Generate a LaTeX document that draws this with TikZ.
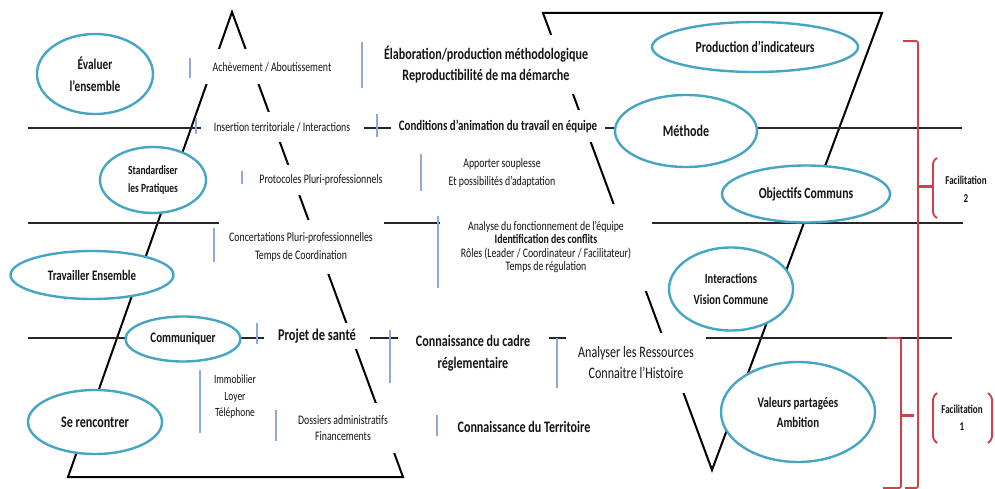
\documentclass[tikz,border=0pt]{standalone}
\usepackage{fontspec}
\setmainfont{Carlito}[FakeStretch=0.755]
\usetikzlibrary{shapes.geometric}
\definecolor{ellblue}{RGB}{70,165,197}
\definecolor{tickblue}{RGB}{143,170,215}
\definecolor{brred}{RGB}{205,65,75}
\definecolor{ink}{RGB}{20,20,20}
\newcommand{\fsz}[2]{\fontsize{#1}{#2}\selectfont}
\begin{document}
\begin{tikzpicture}[x=1pt,y=-1pt,
  tri/.style={draw=black,line width=2pt,line join=miter},
  hline/.style={draw=black!85,line width=1.1pt},
  ell/.style={ellipse,draw=ellblue,line width=2.4pt,fill=white,inner sep=0pt,align=center,text=ink},
  txt/.style={fill=white,inner sep=0pt,align=center,text=ink},
  reg/.style={txt,font=\fsz{13}{17}},
  bld/.style={txt,font=\bfseries\fsz{16}{21}},
  tick/.style={draw=tickblue,line width=1.4pt},
  br/.style={draw=brred,line width=1.8pt,rounded corners=2pt}]
\useasboundingbox (0,0) rectangle (995,489);
\fill[white] (0,0) rectangle (995,489);

% triangles
\draw[tri] (232,12) -- (68,477) -- (403,477) -- cycle;
\draw[tri] (543,13) -- (882,13) -- (712,470) -- cycle;

% horizontal lines
\draw[hline] (28,128) -- (962,128);
\draw[hline] (28,223) -- (963,223);
\draw[hline] (28,338) -- (952,338);

% ellipses
\node[ell,minimum width=116pt,minimum height=80pt,font=\bfseries\fsz{15}{22}] (eval) at (95,74) {Évaluer\\l’ensemble};
\node[ell,minimum width=106pt,minimum height=66pt,font=\bfseries\fsz{12.5}{18}] (stand) at (153,180) {Standardiser\\les Pratiques};
\node[ell,minimum width=163pt,minimum height=48pt,font=\bfseries\fsz{14.5}{18}] (trav) at (92,275) {Travailler Ensemble};
\node[ell,minimum width=115pt,minimum height=45pt,font=\bfseries\fsz{14.5}{16}] (comm) at (183,339) {Communiquer};
\node[ell,minimum width=134pt,minimum height=64pt,font=\bfseries\fsz{16}{20}] (seren) at (95,422) {Se rencontrer};
\node[ell,minimum width=206pt,minimum height=50pt,font=\bfseries\fsz{15.5}{20}] (prod) at (755,47) {Production d’indicateurs};
\node[ell,minimum width=142pt,minimum height=72pt,font=\bfseries\fsz{16}{20}] (meth) at (686,131) {Méthode};
\node[ell,minimum width=168pt,minimum height=57pt,font=\bfseries\fsz{15.5}{20}] (obj) at (806,194) {Objectifs Communs};
\node[ell,minimum width=124pt,minimum height=83pt,font=\bfseries\fsz{14}{21}] (inter) at (731,289) {Interactions\\Vision Commune};
\node[ell,minimum width=154pt,minimum height=100pt,font=\bfseries\fsz{14.5}{20}] (val) at (798,412) {Valeurs partagées\\Ambition};

% text boxes
\node[reg,minimum width=139pt,minimum height=35pt] (ach) at (272,67) {Achèvement / Aboutissement};
\node[bld,minimum width=227pt,minimum height=59pt] (elab) at (486,65) {Élaboration/production méthodologique\\Reproductibilité de ma démarche};
\node[reg,minimum width=163pt,minimum height=30pt] (ins) at (282,127) {Insertion territoriale / Interactions};
\node[bld,font=\bfseries\fsz{14.5}{21},minimum width=214pt,minimum height=32pt] (cond) at (498,126) {Conditions d’animation du travail en équipe};
\node[reg,minimum width=147pt,minimum height=30pt] (prot) at (321,180) {Protocoles Pluri-professionnels};
\node[reg,font=\fsz{13}{18}] (app) at (502,173) {Apporter souplesse\\Et possibilités d’adaptation};
\node[reg,font=\fsz{13}{18},minimum width=165pt,minimum height=54pt] (conc) at (301,247) {Concertations Pluri-professionnelles\\Temps de Coordination};
\node[reg,font=\fsz{13}{13.5},minimum width=212pt,minimum height=87pt] (ana) at (546,247) {Analyse du fonctionnement de l’équipe\\{\bfseries Identification des conflits}\\Rôles (Leader / Coordinateur / Facilitateur)\\Temps de régulation};
\node[bld,font=\bfseries\fsz{16.5}{21},minimum width=106pt,minimum height=26pt] (proj) at (317,336) {Projet de santé};
\node[bld,font=\bfseries\fsz{16}{22},minimum width=151pt,minimum height=38pt] (cadre) at (473,353) {Connaissance du cadre\\réglementaire};
\node[reg,font=\fsz{16}{21},minimum width=140pt,minimum height=60pt] (anal) at (636,363) {Analyser les Ressources\\Connaitre l’Histoire};
\node[reg,font=\fsz{12.5}{16.5}] (immo) at (235,397) {Immobilier\\Loyer\\Téléphone};
\node[reg,font=\fsz{13}{16},minimum width=104pt,minimum height=50pt] (doss) at (343,428) {Dossiers administratifs\\Financements};
\node[bld] (terr) at (524,427) {Connaissance du Territoire};
\node[txt,font=\bfseries\fsz{12}{18}] (fac2) at (966,189) {Facilitation\\2};
\node[txt,font=\bfseries\fsz{12}{17}] (fac1) at (962,418) {Facilitation\\1};

% blue ticks
\foreach \x/\ya/\yb in {190/58/78, 362/42/88, 196/118/134, 377/114/137, 242/171/184, 421/154/191, 214/228/262, 438/216/288, 257/323/344, 390/330/383, 557/338/388, 200/370/433, 276/410/441, 437/415/436}
  \draw[tick] (\x,\ya) -- (\x,\yb);

% red braces
\draw[br] (903,41) -- (918,41) -- (918,488) -- (905,488);
\draw[brred,line width=3pt] (918,187) -- (933,187);
\draw[br] (937,158) -- (933,161) -- (933,215) -- (937,218);
\draw[br] (887,338) -- (901,338) -- (901,488) -- (883,488);
\draw[brred,line width=3pt] (901,415) -- (914,415);
\draw[br] (937,393) -- (933,397) -- (933,439) -- (937,443);
\draw[br] (988,393) -- (992,397) -- (992,439) -- (988,443);
\end{tikzpicture}
\end{document}
